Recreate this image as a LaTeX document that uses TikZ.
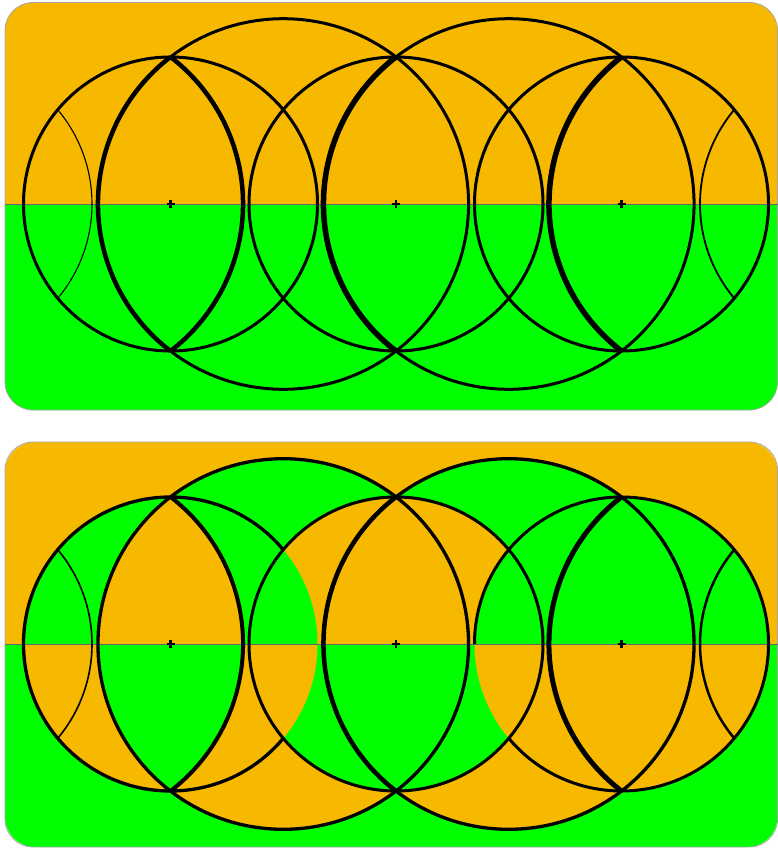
\documentclass[tikz,border=0pt]{standalone}
\usepackage{xcolor}
\usepackage{tikz}
\definecolor{amber}{RGB}{247,184,0}
\definecolor{lime}{RGB}{0,255,0}
\tikzset{
  panel/.style={draw=black!35, line width=0.8pt, rounded corners=28pt},
  ring/.style={draw, line width=3pt},
  seam/.style={draw=black!60, line width=0.9pt},
  hub/.style={draw, line width=2.2pt},
}
\newcommand{\rs}{147}     % small radius
\newcommand{\rb}{185.3}   % big radius

\begin{document}
\begin{tikzpicture}[x=1pt,y=-1pt]
  \useasboundingbox (0,0) rectangle (778,848);

  % upper panel: plain halves
  \begin{scope}
    \clip[rounded corners=28pt] (5,2.5) rectangle (777.5,410);
    \fill[amber] (0,0) rectangle (778,204);
    \fill[lime] (0,204) rectangle (778,420);
  \end{scope}
  \draw[panel] (5,2.5) rectangle (777.5,410);
  \draw[seam] (5,204) -- (777.5,204);

  \foreach \cx in {170.5,396,621.5}
    \draw[ring] (\cx,204) circle[radius=\rs];
  \foreach \cx in {283.25,508.75}
    \draw[ring] (\cx,204) circle[radius=\rb];
  \foreach \cx/\a/\b/\w in {57.75/-52.5/52.5/4.5, 283.25/127.5/232.5/4.5,
                            508.75/127.5/232.5/5.5, 734.25/127.5/232.5/5.5}
    \draw[line width=\w pt] (\cx,204) ++(\a:\rb) arc[start angle=\a, end angle=\b, radius=\rb];
  \foreach \cx/\a/\b/\w in {-55/-39.9/39.9/1.1, 847/140.1/219.9/1.8}
    \draw[line width=\w pt] (\cx,204) ++(\a:\rs) arc[start angle=\a, end angle=\b, radius=\rs];
  \foreach \cx in {170.5,396,621.5}
    \draw[hub] (\cx-4,204) -- (\cx+4,204) (\cx,200) -- (\cx,208);

  % lower panel: disks painted over in turn with swapped halves
  \begin{scope}
    \clip[rounded corners=30pt] (5,442) rectangle (777.5,847);
    \fill[amber] (0,430) rectangle (778,644);
    \fill[lime] (0,644) rectangle (778,848);
    \foreach \cx/\r/\up/\dn in {283.25/\rb/lime/amber, 508.75/\rb/lime/amber,
                                396/\rs/amber/lime, 170.5/\rs/lime/amber}{
      \begin{scope}
        \clip (\cx,644) circle[radius=\r];
        \fill[\up] (0,430) rectangle (778,644);
        \fill[\dn] (0,644) rectangle (778,848);
      \end{scope}
    }
    \begin{scope}
      \clip (57.75,644) circle[radius=\rb];
      \clip (283.25,644) circle[radius=\rb];
      \fill[amber] (0,430) rectangle (778,644);
      \fill[lime] (0,644) rectangle (778,848);
    \end{scope}
    \begin{scope}
      \clip (621.5,644) circle[radius=\rs];
      \fill[lime] (0,430) rectangle (778,644);
      \fill[amber] (0,644) rectangle (778,848);
    \end{scope}
  \end{scope}
  \draw[panel] (5,442) rectangle (777.5,847);
  \draw[seam] (5,644) -- (777.5,644);

  \draw[ring] (396,644) circle[radius=\rs];
  \draw[ring, line width=3.3pt] (170.5,644) ++(39.9:\rs) arc[start angle=39.9, end angle=320.1, radius=\rs];
  \draw[ring] (621.5,644) ++(180:\rs) arc[start angle=180, end angle=500.1, radius=\rs];
  \foreach \cx in {283.25,508.75}
    \draw[ring, line width=3.3pt] (\cx,644) circle[radius=\rb];
  \foreach \cx/\a/\b/\w in {57.75/-52.5/52.5/4, 508.75/127.5/232.5/4.5,
                            734.25/127.5/232.5/5}
    \draw[line width=\w pt] (\cx,644) ++(\a:\rb) arc[start angle=\a, end angle=\b, radius=\rb];
  \foreach \cx/\a/\b/\w in {-55/-39.9/39.9/1.6, 847/140.1/219.9/2.5}
    \draw[line width=\w pt] (\cx,644) ++(\a:\rs) arc[start angle=\a, end angle=\b, radius=\rs];
  \foreach \cx in {170.5,396,621.5}
    \draw[hub] (\cx-4,644) -- (\cx+4,644) (\cx,640) -- (\cx,648);
\end{tikzpicture}
\end{document}
